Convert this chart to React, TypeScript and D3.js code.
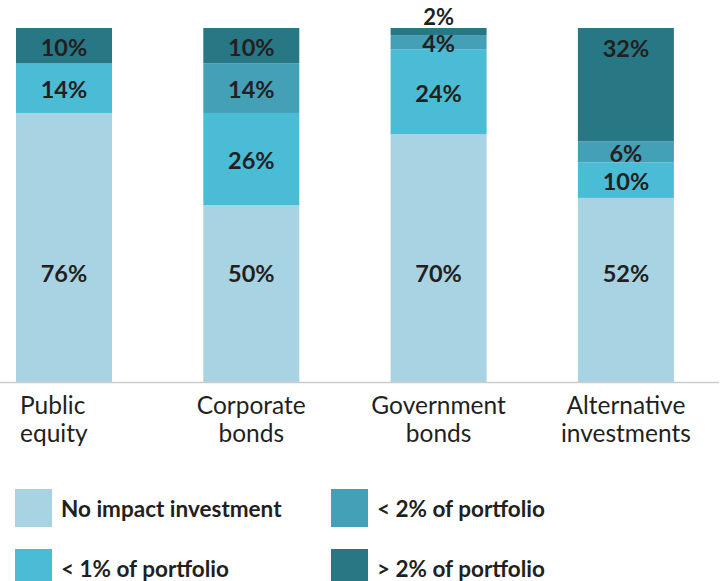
import React from "react";
import * as d3 from "d3";

const categories = ["Public\nequity", "Corporate\nbonds", "Government\nbonds", "Alternative\ninvestments"];
const seriesNames = ["No impact investment", "< 1% of portfolio", "< 2% of portfolio", "> 2% of portfolio"];
const noImpact = [76, 50, 70, 52];
const lt1 = [14, 26, 24, 10];
const lt2 = [0, 14, 4, 6];
const gt2 = [10, 10, 2, 32];
const colors = ["#a8d3e2", "#4bbcd5", "#44a0b6", "#277784"];

const W = 724;
const H = 581;
const FONT = "Lato, 'Open Sans', sans-serif";

export default function App() {
  const rows = categories.map((c, i) => ({
    cat: c,
    v0: noImpact[i],
    v1: lt1[i],
    v2: lt2[i],
    v3: gt2[i],
  }));
  const keys = ["v0", "v1", "v2", "v3"];
  const stacked = d3.stack<any>().keys(keys)(rows);

  const y = d3.scaleLinear().domain([0, 100]).range([382, 28]);
  const bw = 96;
  const bx = (i: number) => 16 + i * 187.3;

  return (
    <svg width={W} height={H} style={{ display: "block", position: "absolute", left: 0, top: 0 }} fontFamily={FONT}>
      {stacked.map((layer, si) => (
        <g key={si}>
          {layer.map((d, i) => {
            const v = d[1] - d[0];
            if (v <= 0) return null;
            const y0 = y(d[1]);
            const h = y(d[0]) - y(d[1]);
            const cx = bx(i) + bw / 2;
            const small = h < 10;
            let ly = y0 + h / 2;
            if (si === 0) ly = y(31);
            else if (si === keys.length - 1 && h > 60) ly = y0 + 19;
            if (small) ly = y0 - 13;
            return (
              <g key={i}>
                <rect x={bx(i)} y={y0} width={bw} height={h} fill={colors[si]} />
                <text
                  x={cx}
                  y={ly + 1}
                  textAnchor="middle"
                  dominantBaseline="central"
                  fontSize={small ? 22 : 23.5}
                  fontWeight={700}
                  fill="#231f20"
                >
                  {v}%
                </text>
              </g>
            );
          })}
        </g>
      ))}
      <line x1={0} x2={719} y1={382.5} y2={382.5} stroke="#cccccc" strokeWidth={1.5} />
      {categories.map((c, i) => {
        const lines = c.split("\n");
        const first = i === 0;
        const tx = first ? bx(i) + 4 : bx(i) + bw / 2;
        return (
          <text key={c} x={tx} textAnchor={first ? "start" : "middle"} fontSize={24.5} fill="#231f20">
            {lines.map((l, j) => (
              <tspan key={j} x={tx} y={414 + j * 28}>
                {l}
              </tspan>
            ))}
          </text>
        );
      })}
      {seriesNames.map((s, i) => {
        const col = i === 0 || i === 1 ? 0 : 1;
        const row = i === 0 || i === 2 ? 0 : 1;
        const lx = col === 0 ? 15 : 331;
        const ly = row === 0 ? 489 : 549;
        return (
          <g key={s}>
            <rect x={lx} y={ly} width={37} height={38} fill={colors[i]} />
            <text x={lx + 46} y={ly + 19} dominantBaseline="central" fontSize={22.5} fontWeight={700} fill="#231f20">
              {s}
            </text>
          </g>
        );
      })}
    </svg>
  );
}
